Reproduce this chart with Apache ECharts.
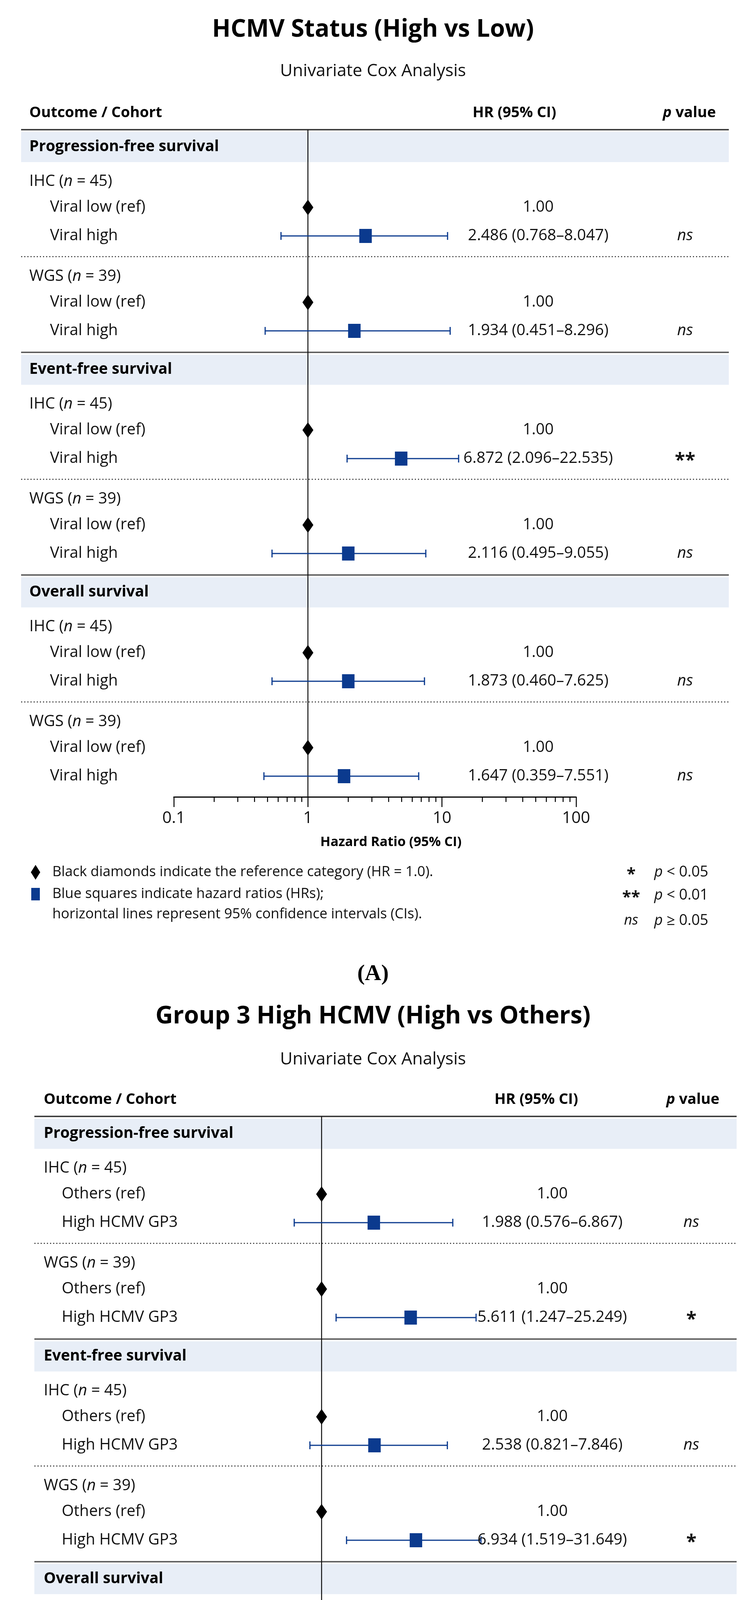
<!DOCTYPE html>
<html><head><meta charset="utf-8">
<script src="https://cdn.jsdelivr.net/npm/echarts@6/dist/echarts.min.js"></script>
<style>html,body{margin:0;padding:0;background:#fff}#c{width:1910px;height:5079px}</style>
</head><body><div id="c"></div>
<script>
// ---------- DATA ----------
const sections = ['Progression-free survival','Event-free survival','Overall survival'];
const cohorts = ['IHC','WGS'];
const cohortN = [45,39];
const xTicks = [0.1,1,10,100];
const minorTicks = [0.2,0.3,0.4,0.5,0.6,0.7,0.8,0.9,2,3,4,5,6,7,8,9,20,30,40,50,60,70,80,90];

const titleA = 'HCMV Status (High vs Low)';
const refLabelA = 'Viral low (ref)';
const highLabelA = 'Viral high';
// reported values (table text)
const hrA = [2.486,1.934,6.872,2.116,1.873,1.647];
const loA = [0.768,0.451,2.096,0.495,0.460,0.359];
const hiA = [8.047,8.296,22.535,9.055,7.625,7.551];
const pA  = ['ns','ns','**','ns','ns','ns'];
// plotted marker/whisker positions
const plotHrA = [2.69,2.22,4.96,2.0,2.0,1.86];
const plotLoA = [0.63,0.48,1.96,0.54,0.54,0.47];
const plotHiA = [11.0,11.5,13.3,7.57,7.4,6.7];

const titleB = 'Group 3 High HCMV (High vs Others)';
const refLabelB = 'Others (ref)';
const highLabelB = 'High HCMV GP3';
const hrB = [1.988,5.611,2.538,6.934,4.279,9.338];
const loB = [0.576,1.247,0.821,1.519,1.049,1.694];
const hiB = [6.867,25.249,7.846,31.649,17.449,51.473];
const pB  = ['ns','*','ns','*','*','**'];
const plotHrB = [2.57,5.0,2.6,5.5,4.27,7.5];
const plotLoB = [0.61,1.30,0.81,1.57,1.21,2.0];
const plotHiB = [10.7,16.3,9.7,17.8,16.1,23.3];

// ---------- LAYOUT ----------
const FONT = '"Open Sans", "Noto Sans", sans-serif';
const BLUE = '#0b3a8e';
const BAND = '#e8eef7';
const INC = {band:44, cohortAfterBand:89, cohortAfterDot:51, ref:66, high:73, sep:54, axis:53};

function buildRows(refLabel, highLabel){
  const rows=[]; let y=0, k=0;
  sections.forEach((s,si)=>{
    if(si>0) rows.push({kind:'solid',y});
    rows.push({kind:'band',y:y+INC.band,sep:y,text:s});
    y+=INC.band;
    cohorts.forEach((c,ci)=>{
      y += ci===0?INC.cohortAfterBand:INC.cohortAfterDot;
      rows.push({kind:'cohort',y,text:c,n:cohortN[ci]});
      y+=INC.ref; rows.push({kind:'ref',y,text:refLabel});
      y+=INC.high; rows.push({kind:'high',y,text:highLabel,idx:k++});
      if(ci===0){ y+=INC.sep-1; rows.push({kind:'dotted',y}); }
      else if(si<2){ y+=INC.sep+1; }
    });
  });
  y+=INC.axis;
  return {rows,total:y};
}

const P = [
  {title:titleA, sub:'Univariate Cox Analysis', tTop:40, sTop:155, top:332, left:445, width:1030,
   tableL:54, tableR:1866, labelX:75, indentX:128, hrX:1378, pX:1754, headHr:1317, headP:1765,
   legY:2233, legX:91, legTX:134, legSX:1616, legPX:1675, letter:'A', letterY:2494,
   refLabel:refLabelA, highLabel:highLabelA, hr:hrA, lo:loA, hi:hiA, p:pA,
   phr:plotHrA, plo:plotLoA, phi:plotHiA, xtX:1001},
  {title:titleB, sub:'Univariate Cox Analysis', tTop:2566, sTop:2685, top:2858, left:497, width:979,
   tableL:88, tableR:1886, labelX:112, indentX:158, hrX:1414, pX:1770, headHr:1373, headP:1774,
   legY:4760, legX:110, legTX:155, legSX:1617, legPX:1678, letter:'B', letterY:5020,
   refLabel:refLabelB, highLabel:highLabelB, hr:hrB, lo:loB, hi:hiB, p:pB,
   phr:plotHrB, plo:plotLoB, phi:plotHiB, xtX:1005}
];

const chart = echarts.init(document.getElementById('c'));
const opt = {animation:false, backgroundColor:'#fff', title:[], grid:[], xAxis:[], yAxis:[], series:[], graphic:[]};
const rich = {i:{fontStyle:'italic',fontFamily:FONT,fontSize:40,fill:'#111'}};

P.forEach((p,gi)=>{
  const {rows,total} = buildRows(p.refLabel,p.highLabel);
  opt.title.push({text:p.title,left:'center',top:p.tTop,textStyle:{fontFamily:FONT,fontWeight:'bold',fontSize:62,color:'#000'}});
  opt.title.push({text:p.sub,left:'center',top:p.sTop,textStyle:{fontFamily:FONT,fontWeight:'normal',fontSize:44,color:'#111'}});
  opt.grid.push({left:p.left,top:p.top,width:p.width,height:total});
  opt.xAxis.push({type:'log',logBase:10,min:0.1,max:100,gridIndex:gi,position:'bottom',
    axisLine:{onZero:false,lineStyle:{color:'#000',width:3}},
    axisTick:{show:true,length:26,lineStyle:{color:'#000',width:2.5}},
    axisLabel:{fontFamily:FONT,fontSize:42,color:'#111',margin:34,formatter:v=>String(+(+v).toPrecision(3))},
    splitLine:{show:false},minorTick:{show:false}});
  opt.yAxis.push({type:'value',min:0,max:total,inverse:true,show:false,gridIndex:gi});

  const bgRows = rows.filter(r=>['band','solid','dotted'].includes(r.kind));
  const bgKinds = bgRows.map(r=>r.kind).concat(['head']);
  opt.series.push({type:'custom',xAxisIndex:gi,yAxisIndex:gi,z:1,clip:false,silent:true,
    data:bgRows.map(r=>[1,r.kind==='band'?r.sep:r.y]).concat([[1,0]]),
    renderItem:(params,api)=>{
      const y=api.coord([1,api.value(1)])[1]; const kind=bgKinds[params.dataIndex];
      if(kind==='band') return {type:'rect',shape:{x:p.tableL,y:y+6,width:p.tableR-p.tableL,height:77},style:{fill:BAND}};
      if(kind==='dotted') return {type:'line',shape:{x1:p.tableL,y1:y,x2:p.tableR,y2:y},style:{stroke:'#333',lineWidth:2.5,lineDash:[3,5]}};
      return {type:'line',shape:{x1:p.tableL,y1:y,x2:p.tableR,y2:y},style:{stroke:kind==='head'?'#333':'#555',lineWidth:3.5}};
    }});
  const textRows = rows.filter(r=>['band','cohort','ref','high'].includes(r.kind));
  opt.series.push({type:'custom',xAxisIndex:gi,yAxisIndex:gi,z:5,clip:false,silent:true,
    data:textRows.map(r=>[1,r.y]),
    renderItem:(params,api)=>{
      const r=textRows[params.dataIndex]; const y=api.coord([1,api.value(1)])[1];
      const base={fontFamily:FONT,fontSize:40,fill:'#111',verticalAlign:'middle',rich};
      const ch=[];
      if(r.kind==='band') ch.push({type:'text',style:Object.assign({},base,{x:p.labelX,y:y,text:r.text,fontWeight:'bold',fontSize:39,fill:'#000'})});
      if(r.kind==='cohort') ch.push({type:'text',style:Object.assign({},base,{x:p.labelX,y:y,text:r.text+' ({i|n} = '+r.n+')'})});
      if(r.kind==='ref'){
        ch.push({type:'text',style:Object.assign({},base,{x:p.indentX,y:y,text:r.text})});
        ch.push({type:'text',style:Object.assign({},base,{x:p.hrX,y:y,text:'1.00',align:'center'})});
      }
      if(r.kind==='high'){
        const i=r.idx;
        ch.push({type:'text',style:Object.assign({},base,{x:p.indentX,y:y,text:r.text})});
        ch.push({type:'text',style:Object.assign({},base,{x:p.hrX,y:y,text:p.hr[i].toFixed(3)+' ('+p.lo[i].toFixed(3)+'–'+p.hi[i].toFixed(3)+')',align:'center'})});
        const ps=p.p[i];
        ch.push({type:'text',style:Object.assign({},base,{x:p.pX,y:y+(ps==='ns'?0:6),text:ps,align:'center',fontStyle:ps==='ns'?'italic':'normal',fontWeight:ps==='ns'?'normal':'bold',fontSize:ps==='ns'?40:48})});
      }
      return {type:'group',children:ch};
    }});
  opt.series.push({type:'line',xAxisIndex:gi,yAxisIndex:gi,z:2,symbol:'none',data:[[1,0],[1,total]],lineStyle:{color:'#111',width:2.5},silent:true});
  const highRows = rows.filter(r=>r.kind==='high');
  opt.series.push({type:'custom',xAxisIndex:gi,yAxisIndex:gi,z:3,silent:true,
    data:highRows.map(r=>[p.plo[r.idx],p.phi[r.idx],r.y]),
    renderItem:(params,api)=>{
      const a=api.coord([api.value(0),api.value(2)]), b=api.coord([api.value(1),api.value(2)]);
      const st={stroke:BLUE,lineWidth:3};
      return {type:'group',children:[
        {type:'line',shape:{x1:a[0],y1:a[1],x2:b[0],y2:b[1]},style:st},
        {type:'line',shape:{x1:a[0],y1:a[1]-10,x2:a[0],y2:a[1]+10},style:st},
        {type:'line',shape:{x1:b[0],y1:b[1]-10,x2:b[0],y2:b[1]+10},style:st}]};
    }});
  opt.series.push({type:'scatter',xAxisIndex:gi,yAxisIndex:gi,z:4,symbol:'rect',symbolSize:[32,36],itemStyle:{color:BLUE,opacity:1},
    data:highRows.map(r=>[p.phr[r.idx],r.y])});
  opt.series.push({type:'scatter',xAxisIndex:gi,yAxisIndex:gi,z:4,symbol:'diamond',symbolSize:[28,40],itemStyle:{color:'#000',opacity:1},
    data:rows.filter(r=>r.kind==='ref').map(r=>[1,r.y])});
  opt.series.push({type:'custom',xAxisIndex:gi,yAxisIndex:gi,z:5,clip:false,silent:true,
    data:minorTicks.map(v=>[v,total]),
    renderItem:(params,api)=>{const c=api.coord([api.value(0),api.value(1)]);
      return {type:'line',shape:{x1:c[0],y1:c[1],x2:c[0],y2:c[1]+13},style:{stroke:'#000',lineWidth:2.5}};}});

  const axY = p.top+total;
  const G = opt.graphic;
  G.push({type:'text',x:p.xtX,y:axY+116,style:{text:'Hazard Ratio (95% CI)',fontFamily:FONT,fontWeight:'bold',fontSize:34,fill:'#000',align:'center',verticalAlign:'middle'}});
  const ly=p.legY, lh=56;
  G.push({type:'polygon',shape:{points:[[p.legX,ly-19],[p.legX+12,ly],[p.legX,ly+19],[p.legX-12,ly]]},style:{fill:'#000'}});
  G.push({type:'rect',shape:{x:p.legX-11,y:ly+lh-16,width:22,height:32},style:{fill:BLUE}});
  const lt={fontFamily:FONT,fontSize:36,fill:'#111',verticalAlign:'middle'};
  G.push({type:'text',x:p.legTX,y:ly,style:Object.assign({text:'Black diamonds indicate the reference category (HR = 1.0).'},lt)});
  G.push({type:'text',x:p.legTX,y:ly+lh,style:Object.assign({text:'Blue squares indicate hazard ratios (HRs);'},lt)});
  G.push({type:'text',x:p.legTX,y:ly+2*lh-4,style:Object.assign({text:'horizontal lines represent 95% confidence intervals (CIs).'},lt)});
  const sy=['*','**','ns'], sp=['< 0.05','< 0.01','≥ 0.05'];
  sy.forEach((s,i)=>{
    const yy=ly+i*(lh+3)+(i==2?6:0);
    G.push({type:'text',x:p.legSX,y:yy+(s==='ns'?0:6),style:Object.assign({},lt,{text:s,align:'center',fontStyle:s==='ns'?'italic':'normal',fontWeight:s==='ns'?'normal':'bold',fontSize:s==='ns'?36:42})});
    G.push({type:'text',x:p.legPX,y:yy,style:Object.assign({},lt,{text:'{i|p} '+sp[i],fontSize:38,rich:{i:{fontStyle:'italic',fontFamily:FONT,fontSize:38,fill:'#111'}}})});
  });
  G.push({type:'text',x:955,y:p.letterY,style:{text:'('+p.letter+')',fontFamily:'"Liberation Serif", serif',fontWeight:'bold',fontSize:58,fill:'#000',align:'center',verticalAlign:'middle'}});
  const hy=p.top-43;
  G.push({type:'text',x:p.labelX,y:hy,style:{text:'Outcome / Cohort',fontFamily:FONT,fontWeight:'bold',fontSize:38,fill:'#000',verticalAlign:'middle'}});
  G.push({type:'text',x:p.headHr,y:hy,style:{text:'HR (95% CI)',fontFamily:FONT,fontWeight:'bold',fontSize:38,fill:'#000',align:'center',verticalAlign:'middle'}});
  G.push({type:'text',x:p.headP,y:hy,style:{text:'{i|p} value',fontFamily:FONT,fontWeight:'bold',fontSize:38,fill:'#000',align:'center',verticalAlign:'middle',rich:{i:{fontStyle:'italic',fontWeight:'bold',fontFamily:FONT,fontSize:38,fill:'#000'}}}});
});
chart.setOption(opt);
</script></body></html>
